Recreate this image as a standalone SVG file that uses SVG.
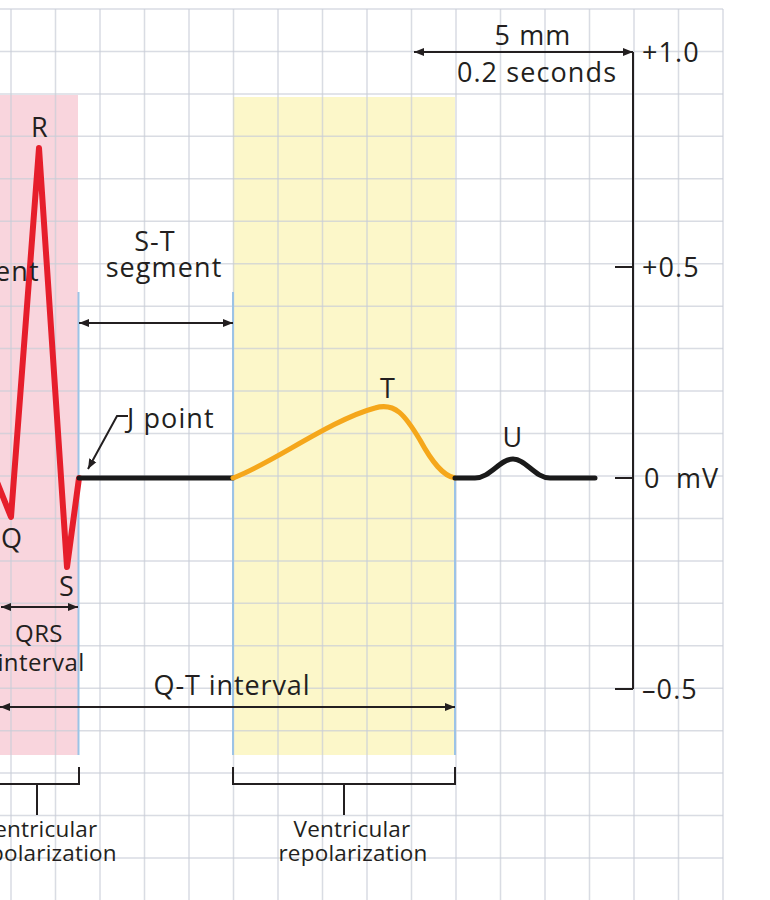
<svg xmlns="http://www.w3.org/2000/svg" width="770" height="900" viewBox="0 0 770 900">
<defs>
<style>
.grid line{stroke:#c9ced8;stroke-width:1.5;opacity:0.7}
.lbl{font-family:"Open Sans","Liberation Sans",sans-serif;fill:#231f20;font-weight:500}
.big{font-size:27px;letter-spacing:1.1px}
.mid{font-size:27px;letter-spacing:0.9px}
.qrs{font-size:24px;letter-spacing:0.4px}
.sm{font-size:22.5px;letter-spacing:0.2px}
.ln{stroke:#231f20;stroke-width:2;fill:none}
.blue{stroke:#9cc3e6;stroke-width:2}
</style>
<marker id="ah" viewBox="0 0 10 10" refX="10" refY="5" markerWidth="5" markerHeight="5" orient="auto-start-reverse" markerUnits="strokeWidth">
<path d="M0,1 L10,5 L0,9 z" fill="#231f20"/>
</marker>
</defs>
<rect width="770" height="900" fill="#ffffff"/>
<g id="regions">
<rect x="0" y="95" width="78" height="660" fill="#f9d5dd"/>
<rect x="233" y="97" width="222" height="658" fill="#fcf7c9"/>
</g>
<g id="grid" class="grid">
<line x1="11" y1="9" x2="11" y2="900"/>
<line x1="55.5" y1="9" x2="55.5" y2="900"/>
<line x1="100" y1="9" x2="100" y2="900"/>
<line x1="144.5" y1="9" x2="144.5" y2="900"/>
<line x1="189" y1="9" x2="189" y2="900"/>
<line x1="233.5" y1="9" x2="233.5" y2="900"/>
<line x1="278" y1="9" x2="278" y2="900"/>
<line x1="322.5" y1="9" x2="322.5" y2="900"/>
<line x1="367" y1="9" x2="367" y2="900"/>
<line x1="411.5" y1="9" x2="411.5" y2="900"/>
<line x1="456" y1="9" x2="456" y2="900"/>
<line x1="500.5" y1="9" x2="500.5" y2="900"/>
<line x1="545" y1="9" x2="545" y2="900"/>
<line x1="589.5" y1="9" x2="589.5" y2="900"/>
<line x1="634" y1="9" x2="634" y2="900"/>
<line x1="678.5" y1="9" x2="678.5" y2="900"/>
<line x1="723" y1="9" x2="723" y2="900"/>
<line x1="0" y1="9" x2="723" y2="9"/>
<line x1="0" y1="51.5" x2="723" y2="51.5"/>
<line x1="0" y1="94" x2="723" y2="94"/>
<line x1="0" y1="136.3" x2="723" y2="136.3"/>
<line x1="0" y1="178.8" x2="723" y2="178.8"/>
<line x1="0" y1="221.3" x2="723" y2="221.3"/>
<line x1="0" y1="263.7" x2="723" y2="263.7"/>
<line x1="0" y1="306.2" x2="723" y2="306.2"/>
<line x1="0" y1="348.6" x2="723" y2="348.6"/>
<line x1="0" y1="391" x2="723" y2="391"/>
<line x1="0" y1="433.5" x2="723" y2="433.5"/>
<line x1="0" y1="476" x2="723" y2="476"/>
<line x1="0" y1="518.4" x2="723" y2="518.4"/>
<line x1="0" y1="560.9" x2="723" y2="560.9"/>
<line x1="0" y1="603.3" x2="723" y2="603.3"/>
<line x1="0" y1="645.8" x2="723" y2="645.8"/>
<line x1="0" y1="688.2" x2="723" y2="688.2"/>
<line x1="0" y1="730.7" x2="723" y2="730.7"/>
<line x1="0" y1="773.1" x2="723" y2="773.1"/>
<line x1="0" y1="815.6" x2="723" y2="815.6"/>
<line x1="0" y1="858" x2="723" y2="858"/>
</g>
<g id="boundaries" class="blue">
<line x1="78.5" y1="292" x2="78.5" y2="755"/>
<line x1="233" y1="292" x2="233" y2="755"/>
<line x1="455" y1="478" x2="455" y2="755"/>
</g>
<g id="trace" fill="none" stroke-linejoin="round" stroke-linecap="round">
<path id="qrs" d="M-5,477 L11,517 L39,148 L67,567 L79,478" stroke="#e61e2b" stroke-width="6"/>
<path id="st" d="M79,478 L233,478" stroke="#1a1a1a" stroke-width="5"/>
<path id="twave" d="M233,478 C270,465 330,420 375,408 C395,402 405,415 420,440 C432,462 443,476 455,478" stroke="#f5a71b" stroke-width="5"/>
<path id="uwave" d="M455,478 L475,478 C490,478 500,459 513,459 C526,459 535,478 550,478 L595,478" stroke="#1a1a1a" stroke-width="5"/>
</g>
<g id="axis" class="ln">
<line x1="633" y1="52" x2="633" y2="689"/>
<line x1="615" y1="267" x2="633" y2="267"/>
<line x1="615" y1="478" x2="633" y2="478"/>
<line x1="615" y1="689" x2="633" y2="689"/>
</g>
<g id="connectors" class="ln">
<line x1="414" y1="52" x2="633" y2="52" marker-start="url(#ah)" marker-end="url(#ah)"/>
<line x1="79" y1="323" x2="233" y2="323" marker-start="url(#ah)" marker-end="url(#ah)"/>
<line x1="1" y1="607" x2="78" y2="607" marker-start="url(#ah)" marker-end="url(#ah)"/>
<line x1="0" y1="707" x2="455" y2="707" marker-start="url(#ah)" marker-end="url(#ah)"/>
<path d="M128,416 L117,416 L88,469" marker-end="url(#ah)"/>
<path d="M-2,784 L79,784 L79,767"/>
<line x1="37" y1="784" x2="37" y2="815"/>
<path d="M233,767 L233,784 L455,784 L455,767"/>
<line x1="344" y1="784" x2="344" y2="815"/>
</g>
<g id="labels" class="lbl">
<text class="big" x="40" y="137" text-anchor="middle">R</text>
<text class="big" x="-5" y="281">ent</text>
<text class="big" x="155" y="251" text-anchor="middle">S-T</text>
<text class="big" x="164" y="277" text-anchor="middle">segment</text>
<text class="big" x="127" y="428">J point</text>
<text class="big" x="388" y="398" text-anchor="middle">T</text>
<text class="big" x="513" y="447" text-anchor="middle">U</text>
<text class="big" x="12" y="548" text-anchor="middle">Q</text>
<text class="big" x="67" y="596" text-anchor="middle">S</text>
<text class="big" x="533" y="45" text-anchor="middle">5 mm</text>
<text class="big" x="537" y="82" text-anchor="middle">0.2 seconds</text>
<text class="big" x="642" y="62">+1.0</text>
<text class="big" x="642" y="277">+0.5</text>
<text class="big" x="644" y="488">0 <tspan x="676">mV</tspan></text>
<text class="big" x="642" y="699">–0.5</text>
<text class="qrs" x="39" y="642" text-anchor="middle">QRS</text>
<text class="qrs" x="41" y="671" text-anchor="middle">interval</text>
<text class="mid" x="232" y="695" text-anchor="middle">Q-T interval</text>
<text class="sm" x="39" y="837" text-anchor="middle">Ventricular</text>
<text class="sm" x="40" y="861" text-anchor="middle">depolarization</text>
<text class="sm" x="352" y="837" text-anchor="middle">Ventricular</text>
<text class="sm" x="353" y="861" text-anchor="middle">repolarization</text>
</g>
</svg>
